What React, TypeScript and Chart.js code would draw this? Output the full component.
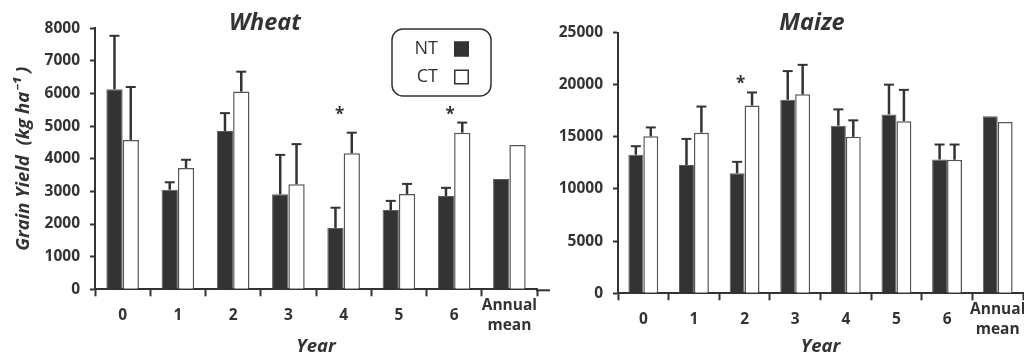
import React, { useEffect, useRef } from 'react';
import { Chart, registerables } from 'chart.js';

Chart.register(...registerables);

// ---------- data ----------
const categories: (string | string[])[] = ['0', '1', '2', '3', '4', '5', '6', ['Annual', 'mean']];
const seriesNames = ['NT', 'CT'];

const wheatNT = [6130, 3050, 4850, 2910, 1880, 2430, 2860, 3380];
const wheatNTErr = [1640, 230, 550, 1210, 620, 280, 250, null];
const wheatCT = [4580, 3720, 6060, 3220, 4170, 2920, 4800, 4420];
const wheatCTErr = [1620, 250, 610, 1230, 630, 310, 310, null];
const wheatSig = [null, null, null, null, 5500, null, 5500, null];
const wheatTicks = { min: 0, max: 8000, step: 1000 };

const maizeNT = [13280, 12300, 11500, 18550, 16070, 17150, 12830, 16960];
const maizeNTErr = [820, 2500, 1100, 2750, 1560, 2850, 1430, null];
const maizeCT = [15050, 15400, 18000, 19070, 15000, 16500, 12800, 16430];
const maizeCTErr = [850, 2500, 1250, 2830, 1580, 3000, 1460, null];
const maizeSig = [null, null, 20500, null, null, null, null, null];
const maizeTicks = { min: 0, max: 25000, step: 5000 };

// ---------- styles ----------
const FONT = "'Open Sans', 'Noto Sans', 'DejaVu Sans', sans-serif";
const INK = '#333333';

function errorBarPlugin(errs: (number | null)[][]) {
  return {
    id: 'errorBars',
    afterDatasetsDraw(chart: any) {
      const ctx = chart.ctx;
      const y = chart.scales.y;
      ctx.save();
      ctx.strokeStyle = INK;
      chart.data.datasets.forEach((ds: any, di: number) => {
        const meta = chart.getDatasetMeta(di);
        meta.data.forEach((bar: any, i: number) => {
          const err = errs[di][i];
          if (err == null) return;
          const top = y.getPixelForValue(ds.data[i] + err);
          const x = bar.x;
          ctx.lineWidth = 2.5;
          ctx.beginPath();
          ctx.moveTo(x, bar.y);
          ctx.lineTo(x, top);
          ctx.stroke();
          ctx.lineWidth = 2;
          ctx.beginPath();
          ctx.moveTo(x - 5, top);
          ctx.lineTo(x + 5, top);
          ctx.stroke();
        });
      });
      ctx.restore();
    },
  };
}

function sigPlugin(sig: (number | null)[]) {
  return {
    id: 'sigMarks',
    afterDatasetsDraw(chart: any) {
      const ctx = chart.ctx;
      const y = chart.scales.y;
      const m0 = chart.getDatasetMeta(0);
      const m1 = chart.getDatasetMeta(1);
      ctx.save();
      ctx.fillStyle = INK;
      ctx.font = `bold 17px ${FONT}`;
      ctx.textAlign = 'center';
      ctx.textBaseline = 'alphabetic';
      sig.forEach((v, i) => {
        if (v == null) return;
        const cx = (m0.data[i].x + m1.data[i].x) / 2 - 4;
        ctx.fillText('*', cx, y.getPixelForValue(v) + 10);
      });
      ctx.restore();
    },
  };
}

function titlePlugin(text: string, x: number, baseline: number) {
  return {
    id: 'panelTitle',
    afterDraw(chart: any) {
      const ctx = chart.ctx;
      ctx.save();
      ctx.fillStyle = INK;
      ctx.font = `italic bold 23.5px ${FONT}`;
      ctx.textAlign = 'center';
      ctx.textBaseline = 'alphabetic';
      ctx.fillText(text, x, baseline);
      ctx.restore();
    },
  };
}

function axisExtendPlugin(toX: number | null) {
  return {
    id: 'axisExtend',
    afterDraw(chart: any) {
      if (toX == null) return;
      const ctx = chart.ctx;
      const a = chart.chartArea;
      ctx.save();
      ctx.strokeStyle = INK;
      ctx.lineWidth = 2;
      ctx.beginPath();
      ctx.moveTo(a.right - 1, a.bottom + 1);
      ctx.lineTo(toX, a.bottom + 1);
      ctx.stroke();
      ctx.restore();
    },
  };
}

const legendPlugin = {
  id: 'boxLegend',
  afterDraw(chart: any) {
    const ctx = chart.ctx;
    const L = 392, T = 29, W = 99, H = 67, R = 11;
    ctx.save();
    ctx.strokeStyle = INK;
    ctx.lineWidth = 1.5;
    ctx.beginPath();
    ctx.moveTo(L + R, T);
    ctx.lineTo(L + W - R, T);
    ctx.arcTo(L + W, T, L + W, T + R, R);
    ctx.lineTo(L + W, T + H - R);
    ctx.arcTo(L + W, T + H, L + W - R, T + H, R);
    ctx.lineTo(L + R, T + H);
    ctx.arcTo(L, T + H, L, T + H - R, R);
    ctx.lineTo(L, T + R);
    ctx.arcTo(L, T, L + R, T, R);
    ctx.closePath();
    ctx.stroke();
    ctx.font = `18px ${FONT}`;
    ctx.textAlign = 'right';
    ctx.textBaseline = 'middle';
    chart.data.datasets.forEach((ds: any, i: number) => {
      const cy = 49 + i * 28;
      ctx.fillStyle = INK;
      ctx.fillText(ds.label, 438, cy);
      ctx.fillStyle = ds.backgroundColor;
      ctx.fillRect(454, cy - 7.5, 15, 15);
      ctx.lineWidth = 1.5;
      ctx.strokeStyle = INK;
      ctx.strokeRect(454.75, cy - 6.75, 13.5, 13.5);
    });
    ctx.restore();
  },
};

interface PanelCfg {
  nt: number[];
  ct: number[];
  ntErr: (number | null)[];
  ctErr: (number | null)[];
  sig: (number | null)[];
  ticks: { min: number; max: number; step: number };
  yTitle: string | null;
  yWidth: number;
  xHeight: number;
  pad: { top: number; right: number; bottom: number; left: number };
  title: string;
  titleX: number;
  legend: boolean;
  axisTo: number | null;
}

function makeConfig(p: PanelCfg): any {
  const tickFont = { family: FONT, size: 15.5, weight: 'bold' as const, lineHeight: 1.3 };
  const titleFont = { family: FONT, size: 18.5, weight: 'bold' as const, style: 'italic' as const };
  const plugins: any[] = [
    axisExtendPlugin(p.axisTo),
    errorBarPlugin([p.ntErr, p.ctErr]),
    sigPlugin(p.sig),
    titlePlugin(p.title, p.titleX, 30),
  ];
  if (p.legend) plugins.push(legendPlugin);
  return {
    type: 'bar',
    data: {
      labels: categories,
      datasets: [
        {
          label: seriesNames[0],
          data: p.nt,
          backgroundColor: '#333333',
          borderColor: '#5c5c5c',
          borderWidth: 1,
          categoryPercentage: 0.59,
          barPercentage: 1,
        },
        {
          label: seriesNames[1],
          data: p.ct,
          backgroundColor: '#ffffff',
          borderColor: '#555555',
          borderWidth: 1.5,
          categoryPercentage: 0.59,
          barPercentage: 1,
        },
      ],
    },
    options: {
      responsive: false,
      animation: false,
      events: [],
      layout: { padding: p.pad },
      plugins: {
        legend: { display: false },
        tooltip: { enabled: false },
        title: { display: false },
      },
      scales: {
        x: {
          type: 'category',
          offset: true,
          grid: {
            offset: true,
            drawOnChartArea: false,
            drawTicks: true,
            tickLength: 7,
            tickWidth: 2,
            tickColor: INK,
          },
          border: { display: true, color: INK, width: 2 },
          ticks: {
            font: tickFont,
            color: INK,
            padding: 9,
            crossAlign: 'center',
            maxRotation: 0,
            minRotation: 0,
            autoSkip: false,
          },
          title: {
            display: true,
            text: 'Year',
            font: titleFont,
            color: INK,
            padding: { top: 0, bottom: 0 },
          },
          afterFit: (s: any) => {
            s.height = p.xHeight;
          },
        },
        y: {
          min: p.ticks.min,
          max: p.ticks.max,
          ticks: {
            stepSize: p.ticks.step,
            callback: (v: any) => String(v),
            font: { family: FONT, size: 15.5, weight: 'bold' },
            color: INK,
            padding: 10,
          },
          grid: {
            drawOnChartArea: false,
            drawTicks: true,
            tickLength: 5,
            tickWidth: 2,
            tickColor: INK,
          },
          border: { display: true, color: INK, width: 2 },
          title: {
            display: !!p.yTitle,
            text: p.yTitle || '',
            font: titleFont,
            color: INK,
            padding: { top: 13, bottom: 0 },
          },
          afterFit: (s: any) => {
            s.width = p.yWidth;
          },
        },
      },
    },
    plugins,
  };
}

function Panel({ cfg, left, width }: { cfg: PanelCfg; left: number; width: number }) {
  const ref = useRef<HTMLCanvasElement | null>(null);
  useEffect(() => {
    if (!ref.current) return;
    const chart = new Chart(ref.current, makeConfig(cfg));
    return () => chart.destroy();
  }, []);
  return (
    <canvas
      ref={ref}
      width={width}
      height={358}
      style={{ position: 'absolute', left, top: 0, width, height: 358 }}
    />
  );
}

const wheatCfg: PanelCfg = {
  nt: wheatNT,
  ct: wheatCT,
  ntErr: wheatNTErr,
  ctErr: wheatCTErr,
  sig: wheatSig,
  ticks: wheatTicks,
  yTitle: 'Grain Yield  (kg ha\u207B\u00B9 )',
  yWidth: 95,
  xHeight: 68.7,
  pad: { top: 28.3, right: 23, bottom: 0, left: 0 },
  title: 'Wheat',
  titleX: 265,
  legend: true,
  axisTo: 550,
};

const maizeCfg: PanelCfg = {
  nt: maizeNT,
  ct: maizeCT,
  ntErr: maizeNTErr,
  ctErr: maizeCTErr,
  sig: maizeSig,
  ticks: maizeTicks,
  yTitle: null,
  yWidth: 73,
  xHeight: 64.7,
  pad: { top: 32.5, right: 42, bottom: 0, left: 0 },
  title: 'Maize',
  titleX: 812 - 545,
  legend: false,
  axisTo: null,
};

export default function App() {
  return (
    <div
      style={{
        position: 'absolute',
        left: 0,
        top: 0,
        width: 1024,
        height: 358,
        overflow: 'hidden',
        background: '#ffffff',
      }}
    >
      <Panel cfg={wheatCfg} left={0} width={560} />
      <Panel cfg={maizeCfg} left={545} width={520} />
    </div>
  );
}
